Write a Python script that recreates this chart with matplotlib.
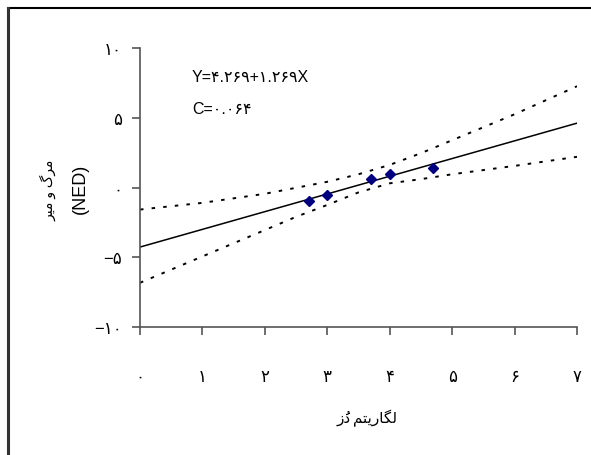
import numpy as np
import matplotlib
matplotlib.use('Agg')
import matplotlib.pyplot as plt
from matplotlib.lines import Line2D

# points
log_dose = [2.71, 3.00, 3.70, 4.00, 4.69]
ned = [-0.98, -0.55, 0.62, 0.95, 1.41]

# fitted line from the chart text
intercept = -4.269
slope = 1.269

# dotted confidence band, read at these x positions
band_x = [0, 1, 2, 2.5, 3, 3.5, 4, 4.5, 5, 6, 7]
band_upper = [-1.58, -1.10, -0.45, -0.02, 0.41, 0.95, 1.62, 2.46, 3.39, 5.25, 7.26]
band_lower = [-6.83, -4.94, -3.05, -2.10, -1.25, -0.35, 0.30, 0.60, 0.95, 1.55, 2.20]

fa = ['\u06f0', '\u06f1', '\u06f2', '\u06f3', '\u06f4', '\u06f5', '\u06f6', '\u06f7', '\u06f8', '\u06f9']
def fa_num(s):
    return ''.join(fa[int(c)] if c.isdigit() else c for c in s)

xticks = [0, 1, 2, 3, 4, 5, 6, 7]
yticks = [-10, -5, 0, 5, 10]
xticklabels = [fa_num(str(v)) for v in xticks]
yticklabels = [fa_num(str(abs(v))) if v >= 0 else '\u2212' + fa_num(str(abs(v))) for v in yticks]

# Persian labels, already shaped and in visual order
xlabel_left = '\ufeaf\ufea9'   # dz (damma drawn separately)
xlabel_right = '\ufee2\ufe98\ufbfe\ufead\ufe8e\ufb95\ufedf'
ylabel_fa = '\ufeae\ufbff\ufee3 \ufeed \ufb92\ufeae\ufee3'

fonts = ['Liberation Sans', 'DejaVu Sans']
plt.rcParams['font.family'] = fonts

fig = plt.figure(figsize=(5.91, 4.56), dpi=100)
ax = fig.add_axes([0.2369, 0.2807, 0.7394, 0.6118])

xs = np.array(xticks, dtype=float)
ax.plot(xs, intercept + slope * xs, color='black', lw=1.1)
ax.plot(band_x, band_upper, color='black', lw=1.4, linestyle=(0, (1.8, 4.2)))
ax.plot(band_x, band_lower, color='black', lw=1.4, linestyle=(0, (1.8, 4.2)))
ax.plot(log_dose, ned, 'D', color='#000080', markersize=5.5, zorder=5)

ax.set_xlim(0, 7)
ax.set_ylim(-10, 10)
ax.set_xticks(xticks)
ax.set_xticklabels(xticklabels, fontsize=12)
ax.set_yticks(yticks)
ax.set_yticklabels(yticklabels, fontsize=12)
ax.tick_params(axis='x', direction='out', length=6, pad=24, colors='black')
ax.tick_params(axis='y', direction='out', length=6, pad=7, colors='black')
for side in ['top', 'right']:
    ax.spines[side].set_visible(False)
for side in ['left', 'bottom']:
    ax.spines[side].set_color('#555555')
    ax.spines[side].set_linewidth(1.2)
ax.tick_params(color='#555555', width=1.2)

ax.text(0.83, 7.95, 'Y=' + fa_num('4.269') + '+' + fa_num('1.269') + 'X', fontsize=11.5, va='center')
ax.text(0.83, 5.65, 'C=' + fa_num('0.064'), fontsize=11.5, va='center')

# x label: two words, right-to-left
label_base = (456 - 423) / 456
fig.text(397 / 591, label_base, xlabel_right, fontsize=11, ha='right', va='baseline')
fig.text(337 / 591, label_base, xlabel_left, fontsize=11, ha='left', va='baseline')
fig.text(348 / 591, label_base, '\ufe78', fontsize=10, ha='center', va='baseline')

fig.text(48 / 591, 1 - 190 / 456, ylabel_fa, fontsize=10, rotation=90, ha='center', va='center')
fig.text(80 / 591, 1 - 189 / 456, '(NED)', fontsize=13, rotation=90, ha='center', va='center')

# frame around the chart (only top and left edges show)
fig.add_artist(Line2D([8 / 591, 1], [1 - 9 / 456] * 2, color='black', lw=1.5))
fig.add_artist(Line2D([8 / 591] * 2, [0, 1 - 9 / 456], color='#333333', lw=2.2))

fig.savefig('out.png', dpi=100)
